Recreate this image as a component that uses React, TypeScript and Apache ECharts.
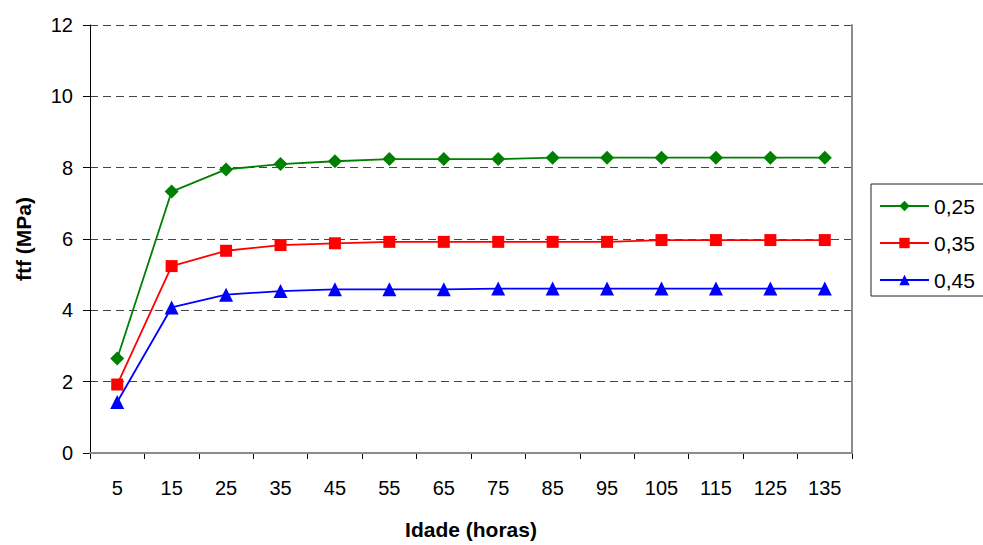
import React, { useEffect, useRef } from "react";
import * as echarts from "echarts";

const categories = ["5", "15", "25", "35", "45", "55", "65", "75", "85", "95", "105", "115", "125", "135"];
const series025 = [2.65, 7.33, 7.95, 8.1, 8.18, 8.24, 8.24, 8.24, 8.28, 8.28, 8.28, 8.28, 8.28, 8.28];
const series035 = [1.92, 5.24, 5.67, 5.83, 5.88, 5.92, 5.92, 5.92, 5.92, 5.92, 5.97, 5.97, 5.97, 5.97];
const series045 = [1.43, 4.08, 4.44, 4.54, 4.59, 4.59, 4.59, 4.61, 4.61, 4.61, 4.61, 4.61, 4.61, 4.61];
const seriesNames = ["0,25", "0,35", "0,45"];
const yTicks = { min: 0, max: 12, interval: 2 };

const FONT = "'Liberation Sans', Arial, sans-serif";

export default function App() {
  const ref = useRef<HTMLDivElement>(null);
  useEffect(() => {
    if (!ref.current) return;
    const chart = echarts.init(ref.current, undefined, { renderer: "svg" });
    const mk = (name: string, data: number[], color: string, symbol: string, size: number) => ({
      name,
      type: "line",
      data,
      symbol,
      symbolSize: size,
      showSymbol: true,
      itemStyle: { color },
      lineStyle: { color, width: 1.8 },
      z: 5,
    });
    chart.setOption({
      animation: false,
      textStyle: { fontFamily: FONT },
      grid: { left: 90, top: 25, width: 762, height: 433, containLabel: false },
      legend: {
        orient: "vertical",
        left: 871,
        top: 184,
        data: seriesNames,
        itemWidth: 49,
        itemHeight: 13,
        itemGap: 13,
        padding: [10, 14, 4, 8],
        borderColor: "#222",
        borderWidth: 1,
        textStyle: { fontSize: 21, color: "#000", fontFamily: FONT, lineHeight: 24 },
      },
      xAxis: [
        {
          type: "category",
          data: categories,
          boundaryGap: true,
          name: "Idade (horas)",
          nameLocation: "middle",
          nameGap: 66,
          nameTextStyle: { fontSize: 21, fontWeight: "bold", color: "#000", fontFamily: FONT },
          axisLine: { lineStyle: { color: "#000", width: 1 } },
          axisTick: { show: true, length: 6, interval: 0, alignWithLabel: false, lineStyle: { color: "#000" } },
          axisLabel: { interval: 0, fontSize: 20, color: "#000", margin: 25, fontFamily: FONT },
          splitLine: { show: false },
        },
        {
          type: "category",
          data: categories,
          position: "top",
          z: 4,
          axisLine: { show: true, lineStyle: { color: "#8c8c8c", width: 2 } },
          axisTick: { show: false },
          axisLabel: { show: false },
          splitLine: { show: false },
        },
      ],
      yAxis: [
        {
          type: "value",
          min: yTicks.min,
          max: yTicks.max,
          interval: yTicks.interval,
          name: "ftf (MPa)",
          nameLocation: "middle",
          nameGap: 56,
          nameTextStyle: { fontSize: 21, fontWeight: "bold", color: "#000", fontFamily: FONT },
          axisLine: { show: true, lineStyle: { color: "#000", width: 1 } },
          axisTick: { show: true, length: 7, lineStyle: { color: "#000" } },
          axisLabel: { fontSize: 20, color: "#000", margin: 17, fontFamily: FONT },
          splitLine: { show: true, lineStyle: { color: "#444", type: [8, 5], width: 1 } },
          z: 1,
        },
        {
          type: "value",
          min: yTicks.min,
          max: yTicks.max,
          interval: yTicks.interval,
          position: "right",
          z: 4,
          axisLine: { show: true, lineStyle: { color: "#8c8c8c", width: 2 } },
          axisTick: { show: false },
          axisLabel: { show: false },
          splitLine: { show: false },
        },
      ],
      series: [
        mk(seriesNames[0], series025, "#008000", "diamond", 14),
        mk(seriesNames[1], series035, "#ff0000", "rect", 12),
        mk(seriesNames[2], series045, "#0000ff", "triangle", 14),
      ],
    });
    return () => chart.dispose();
  }, []);
  return <div ref={ref} style={{ width: 983, height: 545, position: "absolute", left: 0, top: 0 }} />;
}
